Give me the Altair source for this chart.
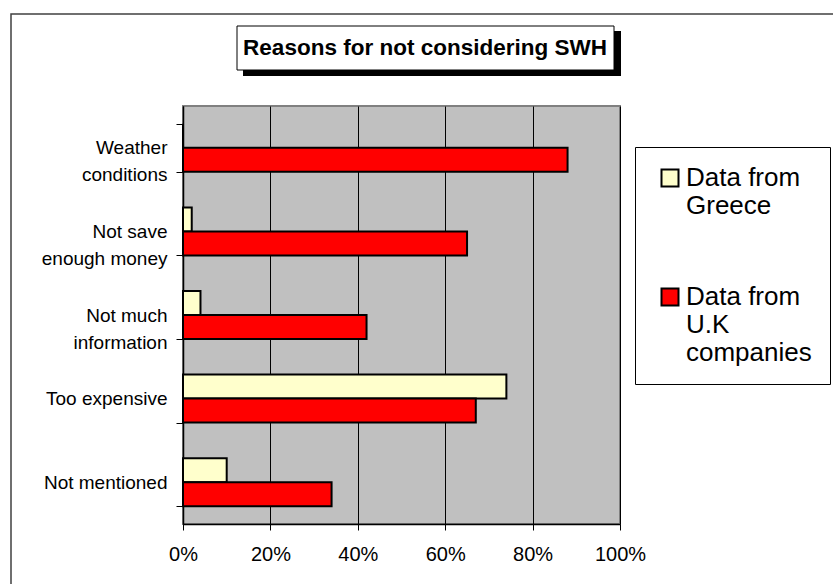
import altair as alt
import pandas as pd

FONT = "Liberation Sans"

categories = ["Weather conditions", "Not save enough money", "Not much information",
              "Too expensive", "Not mentioned"]
category_lines = [["Weather", "conditions"], ["Not save", "enough money"],
                  ["Not much", "information"], ["Too expensive"], ["Not mentioned"]]
greece = [0, 2, 4, 74, 10]
uk = [88, 65, 42, 67, 34]
series_names = ["Data from Greece", "Data from U.K companies"]
series_lines = [["Data from", "Greece"], ["Data from", "U.K", "companies"]]
series_colors = ["#FFFFCC", "#FF0000"]
x_ticks = [0, 20, 40, 60, 80, 100]
title_text = "Reasons for not considering SWH"

rows = []
for c, g, u in zip(categories, greece, uk):
    rows.append({"reason": c, "series": series_names[0], "value": g})
    rows.append({"reason": c, "series": series_names[1], "value": u})
df = pd.DataFrame(rows)


def multiline_expr(keys, lines):
    parts = []
    for k, ls in zip(keys, lines):
        arr = "[" + ",".join("'" + s + "'" for s in ls) + "]"
        parts.append(f"datum.label == '{k}' ? {arr} : ")
    return "".join(parts) + "datum.label"


one = pd.DataFrame({"k": [0]})

outer = alt.Chart(one).mark_rect(filled=False, stroke="#404040", strokeWidth=1.5).encode(
    x=alt.value(-172), x2=alt.value(700), y=alt.value(-92), y2=alt.value(520)
)
shadow = alt.Chart(one).mark_rect(fill="black").encode(
    x=alt.value(60), x2=alt.value(438), y=alt.value(-75), y2=alt.value(-30)
)
tbox = alt.Chart(one).mark_rect(fill="white", stroke="black", strokeWidth=1).encode(
    x=alt.value(54), x2=alt.value(431), y=alt.value(-80), y2=alt.value(-36)
)
ttext = alt.Chart(one).mark_text(
    text=title_text, font=FONT, fontSize=22.5, fontWeight="bold", color="black",
    align="center", baseline="middle"
).encode(x=alt.value(242), y=alt.value(-58))

bars = alt.Chart(df).mark_bar(stroke="black", strokeWidth=2).encode(
    x=alt.X("value:Q", scale=alt.Scale(domain=[0, 100], nice=False),
            axis=alt.Axis(values=x_ticks, labelExpr="datum.value + '%'", title=None,
                          grid=True, gridColor="black", gridWidth=1, gridOpacity=1,
                          tickSize=6, tickColor="black", domainColor="black", domainWidth=1.5,
                          labelFontSize=20, labelPadding=14, labelColor="black",
                          labelFont=FONT, labelFlush=False)),
    y=alt.Y("reason:N", sort=categories,
            scale=alt.Scale(paddingInner=0.426, paddingOuter=0.213),
            axis=alt.Axis(title=None, tickBand="extent", grid=False,
                          labelExpr=multiline_expr(categories, category_lines),
                          labelFontSize=19, labelLineHeight=27, labelPadding=9,
                          tickSize=7, tickColor="black", domainColor="black", domainWidth=1.5,
                          labelColor="black", labelFont=FONT, labelLimit=200)),
    yOffset=alt.YOffset("series:N", sort=series_names,
                        scale=alt.Scale(paddingInner=0, paddingOuter=0)),
    color=alt.Color("series:N", sort=series_names,
                    scale=alt.Scale(domain=series_names, range=series_colors),
                    legend=alt.Legend(title=None, orient="none", legendX=452, legendY=41,
                                      padding=18, strokeColor="black", fillColor="white",
                                      symbolType="square", symbolSize=289,
                                      symbolStrokeColor="black", symbolStrokeWidth=2,
                                      symbolOffset=4, labelFontSize=26, labelFont=FONT,
                                      labelColor="black", labelOffset=3, labelLimit=300,
                                      labelExpr=multiline_expr(series_names, series_lines),
                                      rowPadding=65)),
)

chart = alt.layer(outer, shadow, tbox, ttext, bars).properties(
    width=437, height=418,
    autosize=alt.AutoSizeParams(type="none"),
    padding={"left": 183, "top": 106, "right": 213, "bottom": 60},
    background="white",
).configure_view(fill="#C0C0C0", stroke="#808080", strokeWidth=2)

chart.save("out.html", embed_options={"renderer": "svg", "actions": False})
